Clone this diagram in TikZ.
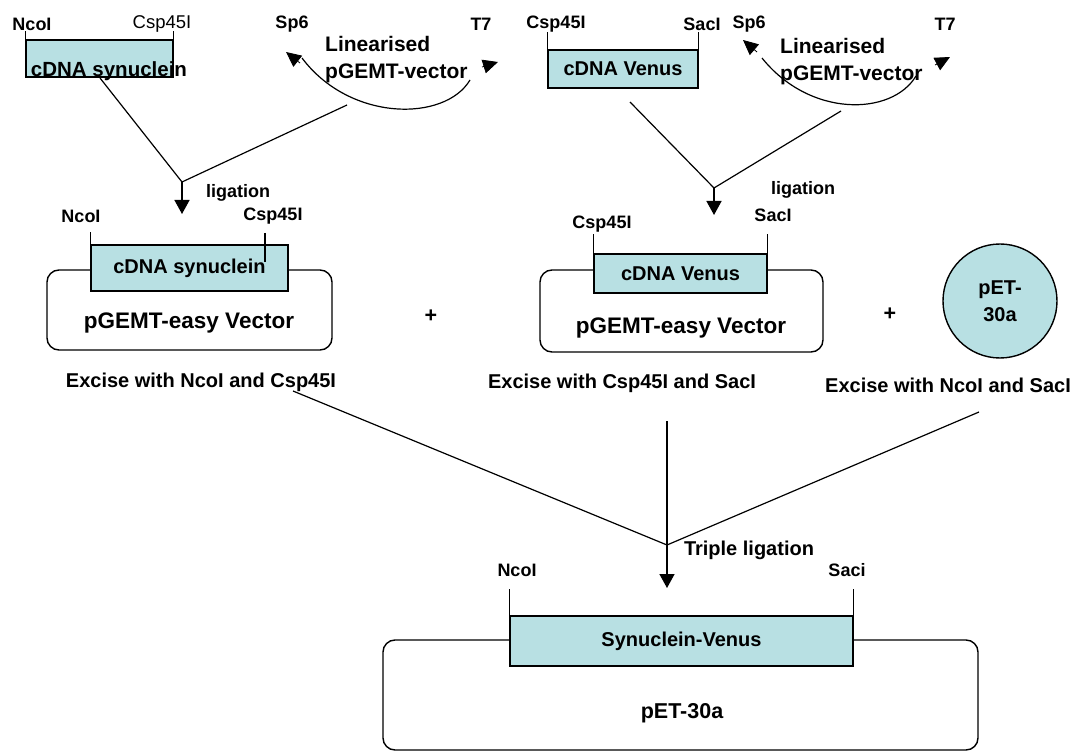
\documentclass[tikz,border=0pt]{standalone}
\usepackage{fontspec}
\setmainfont{Liberation Sans}
\usetikzlibrary{arrows.meta, positioning}
\definecolor{insertblue}{RGB}{184,224,227}
\tikzset{
  lbl/.style={font=\bfseries\fontsize{18}{20}\selectfont, inner sep=0pt},
  txt/.style={font=\bfseries\fontsize{20}{23}\selectfont, inner sep=0pt},
  bigtxt/.style={font=\bfseries\fontsize{21.5}{25}\selectfont, inner sep=0pt},
  insert/.style={draw, fill=insertblue, line width=1.4pt, inner sep=0pt,
    font=\bfseries\fontsize{20}{23}\selectfont},
  vector/.style={draw, rounded corners=12pt, line width=1.4pt, inner sep=0pt},
  link/.style={line width=1.2pt},
  flow/.style={line width=1.5pt, -{Triangle[length=14pt, width=15pt]}},
  arctip/.style={line width=0.8pt, -{Triangle[length=15pt, width=14pt]}},
}

\begin{document}
\begin{tikzpicture}[x=1pt, y=-1pt]
\useasboundingbox (0,0) rectangle (1082,751);

% cDNA synuclein
\node[insert, minimum width=147pt, minimum height=37pt] (syn) at (99.5,58.5) {};
\node[bigtxt, font=\bfseries\fontsize{20.5}{24}\selectfont] (syntxt) at (109,71) {cDNA synuclein};
\draw[link] (syn.north west) -- ++(0,-8);
\draw[link] (syn.north east) -- ++(0,-8);
\node[lbl] (nco1) at (32,24) {NcoI};
\node[inner sep=0pt, font=\fontsize{18.5}{21}\selectfont] (csp1) at (162,24) {Csp45I};

% linearised vector, left
\coordinate (arc1a) at (302,58);
\coordinate (arc1b) at (470,80);
\draw[link] (arc1a) .. controls (350,122) and (445,122) .. (arc1b);
\coordinate (sp6a) at (286,52);
\coordinate (t7a) at (498,62);
\draw[arctip] (300,63) -- (sp6a);
\draw[arctip] (482,67) -- (t7a);
\node[lbl] (sp6lbl1) at (292,24) {Sp6};
\node[lbl] (t7lbl1) at (481,24) {T7};
\node[txt, anchor=west, font=\bfseries\fontsize{21}{24}\selectfont] (lin1) at (325,44) {Linearised};
\node[txt, anchor=west, font=\bfseries\fontsize{21}{24}\selectfont] (pgv1) at (325,73) {pGEMT-vector};

% cDNA Venus
\node[insert, minimum width=150pt, minimum height=38pt] (ven) at (623,69) {cDNA Venus};
\draw[link] (ven.north west) -- ++(0,-17);
\draw[link] (ven.north east) -- ++(0,-17);
\node[lbl] (csp2) at (556,24) {Csp45I};
\node[lbl] (sac2) at (702,24) {SacI};

% linearised vector, right
\coordinate (arc2a) at (762,58);
\coordinate (arc2b) at (916,76);
\draw[link] (arc2a) .. controls (810,118) and (892,116) .. (arc2b);
\coordinate (sp6b) at (743,40);
\coordinate (t7b) at (950,57);
\draw[arctip] (757,52) -- (sp6b);
\draw[arctip] (935,65) -- (t7b);
\node[lbl] (sp6lbl2) at (749,24) {Sp6};
\node[lbl] (t7lbl2) at (945,24) {T7};
\node[txt, anchor=west, font=\bfseries\fontsize{21}{24}\selectfont] (lin2) at (780,46) {Linearised};
\node[txt, anchor=west, font=\bfseries\fontsize{21}{24}\selectfont] (pgv2) at (780,75) {pGEMT-vector};

% first ligations
\coordinate (syndown) at (100,78);
\coordinate (arc1mid) at (347,105);
\coordinate (lig1) at (182,182);
\coordinate (lig1end) at (182,214);
\draw[link] (syndown) -- (lig1) -- (arc1mid);
\draw[flow] (lig1) -- (lig1end);
\node[lbl] (ligtxt1) at (238,193) {ligation};

\coordinate (vendown) at (630,102);
\coordinate (arc2mid) at (841,111);
\coordinate (lig2) at (714,188);
\coordinate (lig2end) at (714,215);
\draw[link] (vendown) -- (lig2) -- (arc2mid);
\draw[flow] (lig2) -- (lig2end);
\node[lbl] (ligtxt2) at (803,190) {ligation};

% pGEMT with synuclein
\node[vector, minimum width=285pt, minimum height=80pt] (vec1) at (189.5,310) {};
\node[insert, minimum width=197pt, minimum height=46pt] (ins1) at (189.5,268) {cDNA synuclein};
\draw[link] (ins1.north west) -- ++(0,-12);
\draw[link] (265,233) -- (265,262);
\node[lbl] (nco3) at (81,216) {NcoI};
\node[lbl] (csp3) at (273,216) {Csp45I};
\node[bigtxt, font=\bfseries\fontsize{22.5}{26}\selectfont] (pge1) at (189,323) {pGEMT-easy Vector};
\node[bigtxt] (plus1) at (431,316) {+};

% pGEMT with Venus
\node[vector, minimum width=283pt, minimum height=82pt] (vec2) at (681.5,311) {};
\node[insert, minimum width=173pt, minimum height=39pt] (ins2) at (680.5,273.5) {cDNA Venus};
\draw[link] (ins2.north west) -- ++(0,-19);
\draw[link] (ins2.north east) -- ++(0,-19);
\node[lbl] (csp4) at (602,224) {Csp45I};
\node[lbl] (sac4) at (773,215) {SacI};
\node[bigtxt, font=\bfseries\fontsize{22.5}{26}\selectfont] (pge2) at (681,328) {pGEMT-easy Vector};
\node[bigtxt] (plus2) at (890,314) {+};

% pET-30a
\node[circle, draw, fill=insertblue, line width=1.4pt, minimum size=114pt,
  inner sep=0pt, align=center, font=\bfseries\fontsize{20}{27}\selectfont]
  (pet) at (1000,301) {pET-\\30a};

% excisions
\node[txt] (exc1) at (201,382) {Excise with NcoI and Csp45I};
\node[txt] (exc2) at (622,383) {Excise with Csp45I and SacI};
\node[txt] (exc3) at (948,385) {Excise with NcoI and SacI};

\coordinate (cut1) at (293,391);
\coordinate (cut2) at (667,421);
\coordinate (cut3) at (979,412);
\coordinate (lig3) at (667,545);
\coordinate (lig3end) at (667,588);
\draw[link] (cut1) -- (lig3);
\draw[link] (cut2) -- (lig3);
\draw[link] (cut3) -- (lig3);
\draw[flow] (lig3) -- (lig3end);
\node[txt] (ligtxt3) at (749,550) {Triple ligation};

% pET-30a with Synuclein-Venus
\node[vector, minimum width=595pt, minimum height=110pt] (vec3) at (680.5,695) {};
\node[insert, minimum width=343pt, minimum height=50pt] (ins3) at (681.5,641) {Synuclein-Venus};
\draw[link] (ins3.north west) -- ++(0,-26);
\draw[link] (ins3.north east) -- ++(0,-26);
\node[lbl] (nco5) at (517,570) {NcoI};
\node[lbl] (sac5) at (847,570) {Saci};
\node[bigtxt] (pet2) at (682,713) {pET-30a};
\end{tikzpicture}
\end{document}
